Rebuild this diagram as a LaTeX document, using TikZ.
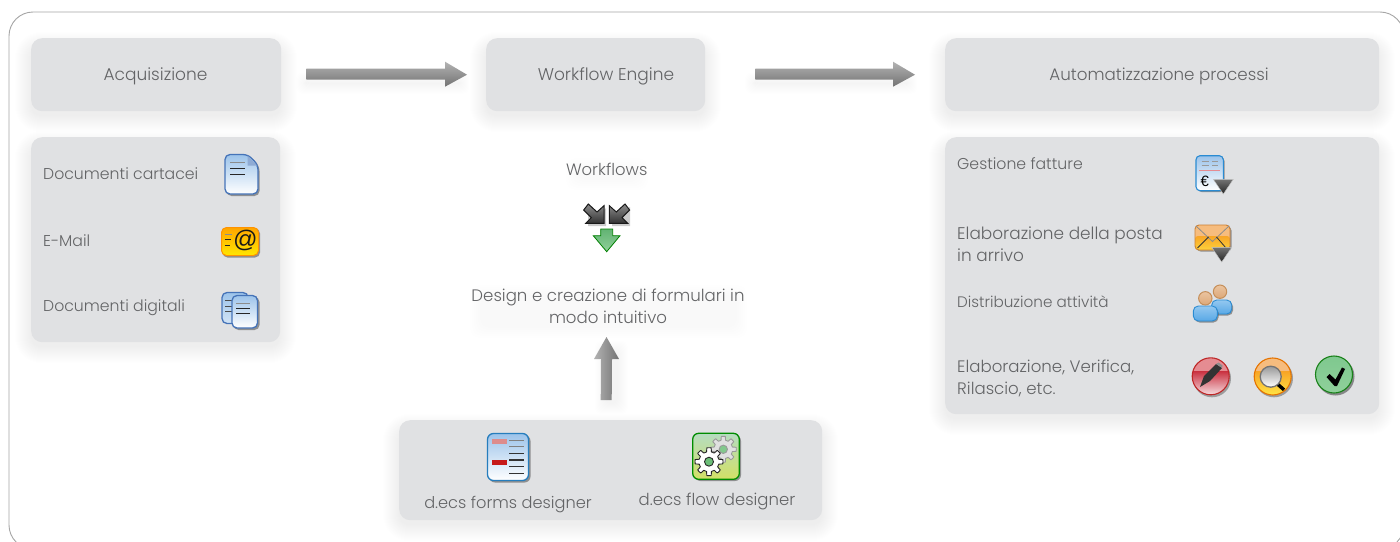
\documentclass[tikz,border=0pt]{standalone}
\usepackage{fontspec}
\setmainfont{Poppins}[UprightFont=* Light]
\newfontfamily\iconfont{Liberation Sans}
\usetikzlibrary{calc}
\definecolor{panelgray}{HTML}{E0E1E3}
\definecolor{txtgray}{HTML}{636466}
\definecolor{blueline}{HTML}{4573B8}
\definecolor{blueicon}{HTML}{2A8BD2}
\definecolor{docTop}{HTML}{9CC3EA}
\definecolor{flowTop}{HTML}{B5DCC0}
\definecolor{flowMid}{HTML}{6CBE78}
\definecolor{flowBot}{HTML}{D2E066}
\definecolor{headA}{HTML}{EBC4A0}
\definecolor{headB}{HTML}{DCA878}
\definecolor{headC}{HTML}{C58F5A}
\definecolor{bodyA}{HTML}{94C8F0}
\definecolor{bodyB}{HTML}{58A8E6}
\definecolor{redTop}{HTML}{E58C92}
\definecolor{redMid}{HTML}{C9303F}
\definecolor{redBot}{HTML}{F6DDE0}
\definecolor{orTop}{HTML}{F6BC7E}
\definecolor{orMid}{HTML}{F8A526}
\definecolor{orBot}{HTML}{FFE445}
\definecolor{grTop}{HTML}{7FC88F}
\definecolor{grMid}{HTML}{3BA050}
\definecolor{grBot}{HTML}{8FD09A}
\tikzset{
  lbl/.style={text=txtgray,inner sep=0pt,align=left},
  clbl/.style={lbl,align=center},
  panel/.style={fill=panelgray,rounded corners=11,anchor=north west,inner sep=0pt},
  iconshadow/.style={black!70,opacity=.55},
}
\newcommand{\fs}[1]{\fontsize{#1}{22}\selectfont}
% soft shadow: #2 x0, #3 y0, #4 x1, #5 y1
\newcommand{\softshadow}[5][.0042]{%
  \foreach \g in {16,15,...,0}{%
    \fill[black,opacity=#1,rounded corners=10+\g] (#2-\g,#3+10-\g) rectangle (#4+\g,#5+5+\g);
  }%
}
\newcommand{\tridown}[3]{% apex x, base y, half width
  \shade[top color=black!55,bottom color=black!85,draw=white!55!gray,line width=.4]
    (#1-#3,#2) -- (#1+#3,#2) -- (#1,#2+14.7) -- cycle;
}
\newcommand{\gear}[6]{% x y r fill draw hub
  \begin{scope}[shift={(#1,#2)}]
    \draw[fill=#4,draw=#5,line width=.9,line join=round]
      (0:#3)
      \foreach \a in {0,45,...,315}{
        -- (\a+9:#3) -- (\a+14:#3*.72) -- (\a+31:#3*.72) -- (\a+36:#3) -- (\a+45:#3)
      } -- cycle;
    \draw[fill=#6,draw=#5,line width=.9] (0,0) circle (#3*.32);
  \end{scope}
}
\begin{document}
\begin{tikzpicture}[x=1pt,y=-1pt]
\useasboundingbox (0,0) rectangle (1400,541);
\clip (0,0) rectangle (1400,541);
\fill[white] (0,0) rectangle (1400,541);
\draw[draw=black!35,line width=.9,rounded corners=24] (9,12) rectangle (1404,549);

% panel shadows
\softshadow{31}{38}{281}{111}
\softshadow{31}{137}{280}{342}
\softshadow{486}{38}{705}{111}
\softshadow{945}{38}{1379}{111}
\softshadow{945}{137}{1379}{414}
\softshadow{399}{420}{822}{520}
% panels as named nodes
\node[panel,minimum width=250,minimum height=73] (acq) at (31,38) {};
\node[panel,minimum width=249,minimum height=205] (inputs) at (31,137) {};
\node[panel,minimum width=219,minimum height=73] (engine) at (486,38) {};
\node[panel,minimum width=434,minimum height=73] (auto) at (945,38) {};
\node[panel,minimum width=434,minimum height=277] (procs) at (945,137) {};
\node[panel,minimum width=423,minimum height=100] (designers) at (399,420) {};

% titles
\node[clbl,font=\fs{17}] (tacq) at (155.5,76) {Acquisizione};
\node[clbl,font=\fs{17}] (teng) at (606,76) {Workflow Engine};
\node[clbl,font=\fs{16.7}] (taut) at (1159,76) {Automatizzazione processi};
% left list
\node[lbl,anchor=west,font=\fs{15.7}] (t1) at (43,173.5) {Documenti cartacei};
\node[lbl,anchor=west,font=\fs{15.7}] (t2) at (43,240.5) {E-Mail};
\node[lbl,anchor=west,font=\fs{15.7}] (t3) at (43,307.5) {Documenti digitali};
% middle
\foreach \xa/\ya/\xb/\yb in {578/166/636/174, 482/293/735/322}{
  \foreach \g in {12,10,...,2}{
    \fill[black,opacity=.004,rounded corners=10] (\xa-\g,\ya+4-\g) rectangle (\xb+\g,\yb+4+\g);
  }
}
\node[clbl,font=\fs{16.4}] (twf) at (606.7,169) {Workflows};
\node[clbl,font=\fs{16.6}] (tdes) at (608,306) {Design e creazione di formulari in\\modo intuitivo};
\node[clbl,font=\fs{16.2}] (tfd) at (508,505) {d.ecs forms designer};
\node[clbl,font=\fs{16.5}] (tfl) at (717,501) {d.ecs flow designer};
% right list
\node[lbl,anchor=west,font=\fs{15.7}] (r1) at (957,164) {Gestione fatture};
\node[lbl,anchor=west,font=\fs{16.9}] (r2) at (957,244) {Elaborazione della posta\\in arrivo};
\node[lbl,anchor=west,font=\fs{15.2}] (r3) at (957,302) {Distribuzione attività};
\node[lbl,anchor=west,font=\fs{16.6}] (r4) at (957,378) {Elaborazione, Verifica,\\Rilascio, etc.};

% block arrows
\coordinate (a1s) at ($(acq.east)+(25,0)$);
\coordinate (a1e) at ($(engine.west)+(-19,0)$);
\coordinate (a2s) at ($(engine.east)+(50,0)$);
\coordinate (a2e) at ($(auto.west)+(-30,0)$);
\coordinate (a3s) at ($(designers.north)+(-4.5,-20)$);
\coordinate (a3e) at (606.5,337);
\foreach \s/\e in {a1s/a1e,a2s/a2e}{
  \foreach \g in {10,9,...,0}{
    \fill[black,opacity=.0042,rounded corners=5] ($(\s)+(0-\g,8-\g)$) rectangle ($(\e)+(\g-8,9+\g)$);
  }
  \shade[top color=black!30,bottom color=black!55]
    ($(\s)+(0,-6)$) -- ($(\e)+(-22,-6)$) -- ($(\e)+(-22,-13)$) -- (\e) -- ($(\e)+(-22,12)$) -- ($(\e)+(-22,5)$) -- ($(\s)+(0,5)$) -- cycle;
}
\foreach \g in {10,9,...,0}{
  \fill[black,opacity=.0042,rounded corners=5] ($(a3s)+(-1-\g,4+\g)$) rectangle ($(a3e)+(11+\g,14-\g)$);
}
\shade[left color=black!30,right color=black!55]
  ($(a3s)+(-5.5,0)$) -- ($(a3e)+(-5.5,22)$) -- ($(a3e)+(-12.5,22)$) -- (a3e) -- ($(a3e)+(12.5,22)$) -- ($(a3e)+(5.5,22)$) -- ($(a3s)+(5.5,0)$) -- cycle;

% ---------- icons left ----------
% paper document
\fill[iconshadow,rounded corners=5] (226.5,156) -- (250,156) -- (259.5,166) -- (259.5,196) -- (226.5,196) -- cycle;
\shade[top color=docTop,bottom color=white,draw=blueline,line width=1.3,rounded corners=5]
  (225,154.5) -- (248,154.5) -- (258,165) -- (258,194) -- (225,194) -- cycle;
\fill[blueline!60!white] (247.5,155.5) -- (257.2,165.5) -- (247.5,165.5) -- cycle;
\draw[black!45,line width=1] (230,162.5) -- (245,162.5);
\draw[black!85,line width=1] (230,168) -- (245,168) (230,174) -- (245,174);
% email
\fill[iconshadow,rounded corners=5] (222.5,228.5) rectangle (260,257.5);
\shade[top color=orange!70!yellow,bottom color=yellow!80!orange,draw=orange!85!yellow,line width=1,rounded corners=5] (221.5,227.5) rectangle (258.5,255.5);
\draw[black!45,line width=1] (224.5,234.5) -- (232,234.5);
\draw[black!85,line width=1] (224.5,239.5) -- (231,239.5) (224.5,245) -- (230,245);
\node[inner sep=0pt,text=black!90,font=\iconfont\fontsize{24}{24}\selectfont\itshape] (at) at (245,240.5) {@};
% digital docs
\fill[iconshadow,rounded corners=5] (233.5,297) rectangle (259.5,330);
\shade[top color=docTop,bottom color=docTop!45!white,draw=blueline,line width=1.3,rounded corners=5] (222,292.5) rectangle (248,323.5);
\draw[black!70,line width=1] (225,300) -- (232,300) (225,306) -- (232,306) (225,311) -- (232,311);
\shade[top color=docTop,bottom color=white,draw=blueline,line width=1.3,rounded corners=5] (232,295.5) rectangle (257.5,328);
\draw[black!45,line width=1] (236,303.5) -- (250,303.5);
\draw[black!85,line width=1] (236,308.5) -- (250,308.5) (236,313.5) -- (250,313.5);

% ---------- workflow icon ----------
\fill[black,opacity=.2] (588,207) -- (600,214) -- (606,208) -- (606,226) -- (588,226) -- cycle;
\fill[black,opacity=.2] (630,207) -- (620,214) -- (612,208) -- (612,226) -- (630,226) -- cycle;
\shade[top color=black!45,bottom color=black!80,draw=black!90,line width=1,line join=miter]
  (604,205.7) -- (604,223.3) -- (585.7,223.3) -- (591.3,217.7) -- (583.7,210) -- (588.3,204) -- (597,212) -- cycle;
\shade[top color=black!45,bottom color=black!80,draw=black!90,line width=1,line join=miter]
  (609.3,205.7) -- (609.3,223.3) -- (627.6,223.3) -- (622,217.7) -- (629.6,210) -- (625,204) -- (616.3,212) -- cycle;
\shade[top color=grMid!80!white,bottom color=grBot,draw=green!50!black,line width=.8,line join=miter]
  (600.7,229) -- (612.7,229) -- (612.7,235.7) -- (620,235.7) -- (606.7,251.7) -- (593.3,235.7) -- (600.7,235.7) -- cycle;

% ---------- forms designer icon ----------
\fill[iconshadow,rounded corners=6] (489,435) rectangle (530.5,482.5);
\shade[top color=docTop,bottom color=white,draw=blueicon!90!black,line width=1.3,rounded corners=6] (487.5,433.5) rectangle (528.5,480.5);
\fill[red!70!black!45!white] (491.7,439.3) rectangle (507.3,444);
\fill[red!75!black!90!white] (491.7,460) rectangle (506.7,464.7);
\draw[black!50,line width=1] (509,440) -- (524,440) (509,446.7) -- (524,446.7);
\draw[black!80,line width=1.1] (509,453.3) -- (524,453.3) (509,460) -- (524,460) (509,466.7) -- (524,466.7) (509,473.3) -- (524,473.3);

% ---------- flow designer icon ----------
\fill[iconshadow,rounded corners=6] (694.5,435) rectangle (741,481);
\shade[top color=flowTop,middle color=flowMid,bottom color=flowBot,draw=green!55!black,line width=1.3,rounded corners=6] (692.7,433.3) rectangle (739.3,479.3);
\gear{723.3}{449.3}{13}{black!12}{black!40}{flowMid!85!white}
\gear{709}{461.7}{14}{white}{black!85}{flowMid}

% ---------- right icons ----------
% invoice
\fill[iconshadow,rounded corners=4] (1197.5,157) rectangle (1224.5,192);
\shade[top color=docTop,bottom color=white,draw=blueicon,line width=1.1,rounded corners=4] (1196,155.7) rectangle (1223.3,190.7);
\draw[black!40,line width=1] (1201.5,161.5) -- (1209,161.5) (1212,161.5) -- (1218,161.5) (1201.5,165.5) -- (1209,165.5) (1212,165.5) -- (1218,165.5);
\draw[redTop,line width=1.3] (1199,170.5) -- (1220,170.5);
\node[inner sep=0pt,text=black,font=\iconfont\fontsize{15}{15}\selectfont] (euro) at (1204.7,181.5) {€};
\tridown{1223.3}{179.3}{10}
% mail
\fill[iconshadow,rounded corners=4] (1196.5,226.5) rectangle (1231.5,251.5);
\fill[orTop,rounded corners=4] (1195,225) rectangle (1230,250);
\shade[top color=orMid,bottom color=orBot!70!orMid,rounded corners=3] (1195,236) rectangle (1230,250);
\draw[orange!75!black!80!white,line width=.9,rounded corners=4] (1195,225) rectangle (1230,250);
\draw[black!45,line width=.8] (1196,226) -- (1212.5,241.5) -- (1229,226);
\draw[black!80,line width=.8] (1197.5,248) -- (1208.5,237) (1226,248) -- (1216.5,237);
\tridown{1221.7}{247.3}{10}
% people
\fill[iconshadow,rounded corners=5] (1213,301.5) rectangle (1233,315.5);
\shade[top color=bodyA,bottom color=bodyB,draw=blueicon,line width=.9,rounded corners=5] (1211.7,300) rectangle (1231.7,314);
\shade[top color=headA,bottom color=headB,draw=headC,line width=1] (1220,291.7) circle (6.7);
\fill[iconshadow,rounded corners=5] (1194.5,307.5) rectangle (1218.5,322.5);
\shade[top color=bodyA,bottom color=bodyB,draw=blueicon,line width=.9,rounded corners=5] (1193.3,306) rectangle (1217.3,321);
\shade[top color=headA,bottom color=headB,draw=headC,line width=1] (1205.3,298.3) circle (6.7);
% pen
\fill[black,opacity=.3] (1212,378.3) circle (19);
\begin{scope}
  \clip (1210.7,376.3) circle (18.5);
  \fill[redTop] (1190,355) rectangle (1232,371);
  \shade[top color=redMid,bottom color=redBot] (1190,371) rectangle (1232,395);
\end{scope}
\draw[red!70!black!85!white,line width=1.1] (1210.7,376.3) circle (18.5);
\fill[black!80] (1200,387) -- (1204,376) -- (1216,364) -- (1222,368) -- (1210,381) -- cycle;
\fill[black!45] (1216,364) -- (1218.5,362.5) -- (1222.5,365.5) -- (1222,368) -- cycle;
% magnifier
\fill[black,opacity=.3] (1274,378.3) circle (19);
\begin{scope}
  \clip (1272.7,376.5) circle (18.5);
  \fill[orTop] (1252,355) rectangle (1294,371.5);
  \shade[top color=orMid,bottom color=orBot] (1252,371.5) rectangle (1294,395);
\end{scope}
\draw[orange!90!black,line width=1.1] (1272.7,376.5) circle (18.5);
\draw[black,line width=3.4] (1277.7,384.3) -- (1284,389.8);
\shade[top color=black!40,bottom color=white,draw=black!55,line width=1.3] (1270.7,376.7) circle (10.5);
% check
\fill[black,opacity=.4] (1335.5,376.5) circle (19);
\shade[top color=grTop,middle color=grMid,bottom color=grBot,draw=green!45!black!90!white,line width=1.1] (1334,374.5) circle (18.5);
\fill[black] (1326.5,377) -- (1329.5,374) -- (1335.5,379.5) -- (1342,367.5) -- (1345,369) -- (1337,386) -- (1334.5,386) -- cycle;
\end{tikzpicture}
\end{document}
